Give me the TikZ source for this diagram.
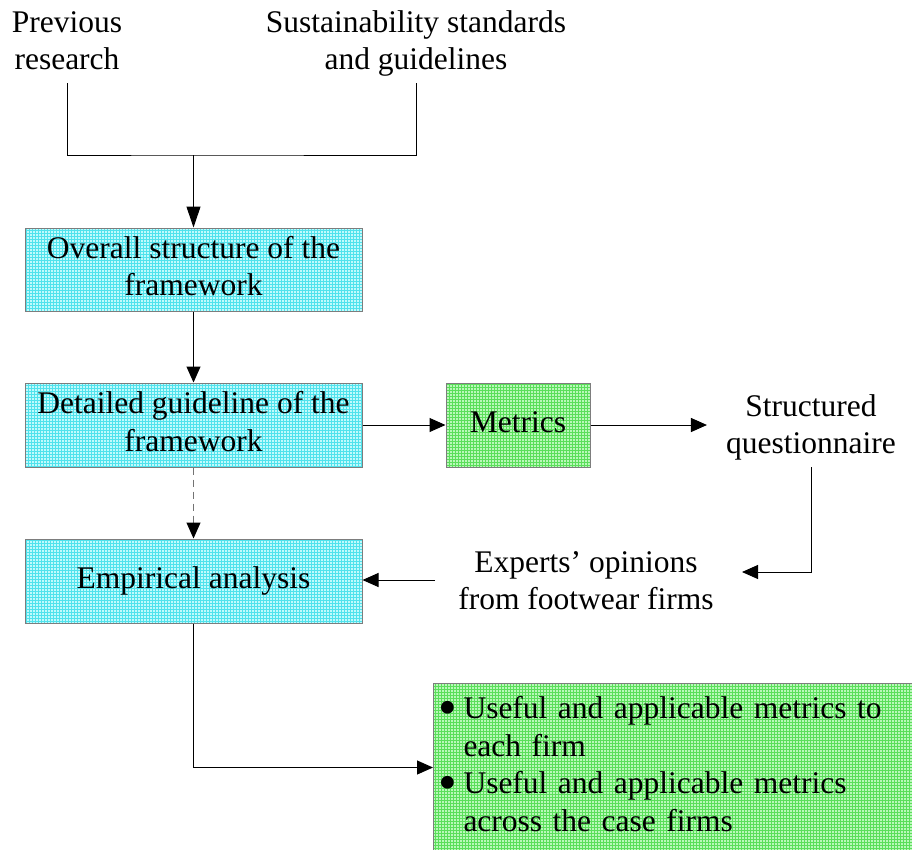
\documentclass[tikz,border=0pt]{standalone}
\usepackage{fontspec}
\setmainfont{Liberation Serif}
\usetikzlibrary{arrows.meta}

\definecolor{cyanfill}{RGB}{192,250,252}
\definecolor{cyangrid}{RGB}{80,226,236}
\definecolor{greenfill}{RGB}{185,248,185}
\definecolor{greengrid}{RGB}{90,222,90}
\definecolor{boxedge}{RGB}{125,125,125}

\newcommand{\bigdot}{\makebox[25pt][l]{\raisebox{-6.5pt}{\scalebox{1.7}{\textbullet}}}}

\tikzset{
  txt/.style={font=\fontsize{31.5}{37.5}\selectfont, align=center, inner sep=2pt},
  gridbox/.style 2 args={draw=boxedge, line width=1pt, fill=#1, txt,
    path picture={\draw[#2, line width=0.35pt, step=3pt]
      (path picture bounding box.south west) grid (path picture bounding box.north east);}},
  cbox/.style={gridbox={cyanfill}{cyangrid}},
  gbox/.style={gridbox={greenfill}{greengrid}},
  link/.style={line width=1pt, black},
  arr/.style={link, -{Triangle[length=16pt, width=14pt, black]}},
}

\begin{document}
\begin{tikzpicture}[x=1pt, y=-1pt]
\useasboundingbox (0,0) rectangle (912,849);

% sources
\node[txt, anchor=south] (prev) at (67,83) {Previous\\research\strut};
\node[txt, anchor=south] (sust) at (416,83) {Sustainability standards\\and guidelines\strut};

% framework steps
\node[cbox, minimum width=337pt, minimum height=83pt] (b1) at (193.5,269.5)
  {\strut Overall structure of the\\framework\strut};
\node[cbox, minimum width=337pt, minimum height=84pt] (b2) at (193.5,425)
  {\strut Detailed guideline of the\\framework\strut};
\node[cbox, minimum width=337pt, minimum height=84pt] (b3) at (193.5,581)
  {\strut Empirical analysis};
\node[gbox, minimum width=144pt, minimum height=84pt] (met) at (518,425)
  {\strut Metrics};

% side texts
\node[txt, anchor=south] (sq) at (811,467) {Structured\\questionnaire\strut};
\node[txt, anchor=south] (ex) at (586,623) {Experts’ opinions\\from footwear firms\strut};

% outcome box
\node[gbox, anchor=north west, minimum width=500pt, minimum height=168pt,
      align=left, text width=490pt, inner xsep=5pt, inner ysep=0pt] (b4) at (433,683)
  {\strut\bigdot Useful and applicable metrics to\\
   \hspace*{25pt}each firm\\
   \bigdot Useful and applicable metrics\\
   \hspace*{25pt}across the case firms\strut};

% connectors
\coordinate (j) at (b1.north |- 0,155);
\draw[link] (prev.south) |- (j) -| (sust.south);
\draw[link, -{Triangle[length=21pt, width=14pt, black]}] (j) -- (b1.north);
\draw[arr] (b1.south) -- (b2.north);
\draw[arr, draw=black!55, dash pattern=on 7pt off 5pt] (b2.south) -- (b3.north);
\draw[arr] (b2.east) -- (met.west);
\draw[arr, shorten >=17pt] (met.east) -- (met.east -| sq.west);
\coordinate (exR) at (742,572);
\draw[arr] (sq.south) |- (exR);
\coordinate (exL) at (435,580);
\draw[arr] (exL) -- (exL -| b3.east);
\draw[arr] (b3.south) |- (b4.west);
\end{tikzpicture}
\end{document}
